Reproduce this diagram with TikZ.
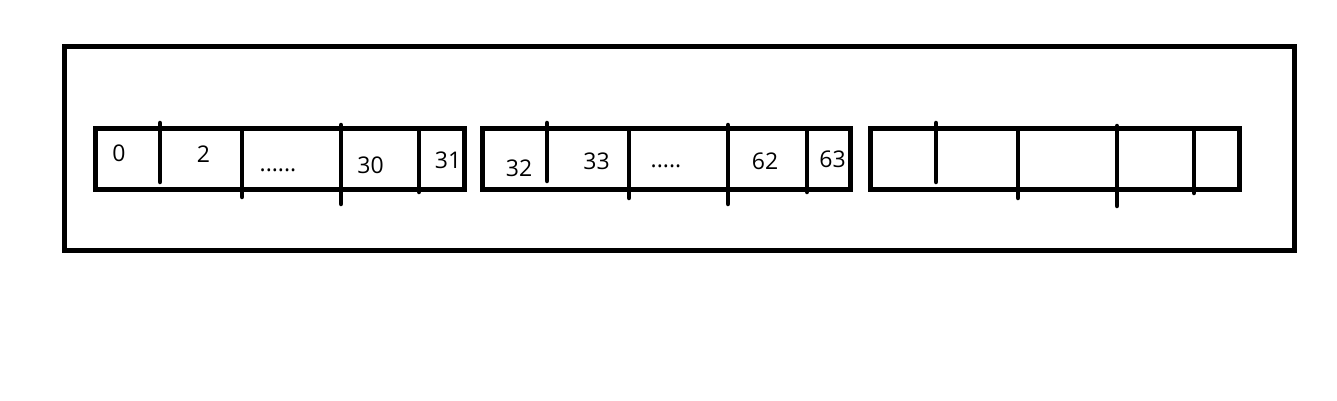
\documentclass[tikz,border=0pt]{standalone}
\usepackage{fontspec}
\setmainfont{Open Sans}
\usepackage{tikz}

\begin{document}
\begin{tikzpicture}[x=1pt, y=-1pt, line width=5pt]

\useasboundingbox (0,0) rectangle (1337,401);

\tikzset{
  slot/.style={line width=4.5pt, line cap=round},
  num/.style={inner sep=0pt, font=\fontsize{23}{23}\selectfont}
}

%outer frame
\draw (64,46.5) rectangle (1294,250);

%the three word boxes
\draw (95,128) rectangle (464.5,189);
\draw (482,128) rectangle (850.5,189);
\draw (870,128) rectangle (1239,189);

%divider macro: x, top, bottom
\newcommand{\divider}[3]{%
  \draw[slot] (#1,#2) -- (#1,#3);
}

\divider{160}{123}{182}
\divider{242}{129}{197}
\divider{341}{125}{204}
\divider{419}{129}{192}

\divider{547}{123}{181}
\divider{629}{129}{198}
\divider{728}{125}{204}
\divider{807}{129}{192}

\divider{936}{123}{182}
\divider{1018}{129}{198}
\divider{1117}{126}{206}
\divider{1194}{129}{193}

\node[num] (b0) at (119,153.5) {0};
\node[num] (b2) at (203.5,154) {2};
\node[num] (dotsA) at (278,170) {......};
\node[num] (b30) at (370.5,165.5) {30};
\node[num] (b31) at (448,160.5) {31};

\node[num] (b32) at (519,168) {32};
\node[num] (b33) at (596.5,161) {33};
\node[num] (dotsB) at (666,166) {.....};
\node[num] (b62) at (765,161) {62};
\node[num] (b63) at (832.5,159) {63};

\end{tikzpicture}
\end{document}
